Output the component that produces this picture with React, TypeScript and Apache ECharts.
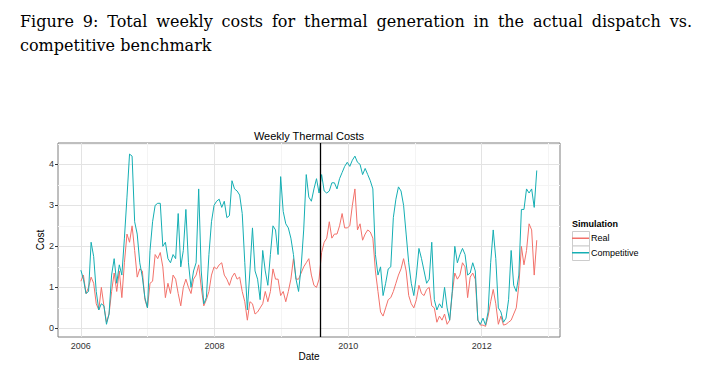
import React, { useEffect, useRef } from 'react';
import * as echarts from 'echarts';

// Weekly thermal costs, sampled every two weeks starting 2006-01-01
const startYear = 2006;
const stepDays = 14;

const real = [
  1.15, 1.3, 0.85, 1.0, 1.25, 1.1, 0.6, 0.45, 1.0, 0.55,
  0.15, 0.35, 0.9, 1.35, 0.9, 1.4, 0.75, 1.6, 2.3, 2.1,
  2.5, 1.9, 1.25, 1.45, 1.4, 0.7, 0.5, 1.1, 1.15, 1.8,
  1.7, 1.85, 1.5, 0.75, 1.1, 0.85, 1.3, 1.2, 0.85, 0.55,
  1.0, 1.2, 1.0, 0.85, 1.2, 1.3, 1.55, 1.0, 0.55, 0.7,
  0.9, 1.3, 1.5, 1.45, 1.55, 1.6, 1.3, 1.2, 1.05, 1.25,
  1.35, 1.2, 1.25, 0.9, 0.65, 0.2, 0.65, 0.6, 0.35, 0.4,
  0.5, 0.6, 0.9, 0.65, 0.9, 1.45, 1.2, 1.2, 0.8, 0.9,
  0.65, 0.9, 1.2, 1.7, 1.2, 1.2, 1.35, 1.5, 1.6, 1.7,
  1.3, 1.05, 1.0, 1.2, 1.85, 2.1, 2.2, 2.6, 2.2, 2.3,
  2.3, 2.5, 2.8, 2.45, 2.45, 2.5, 3.0, 3.4, 2.4, 2.55,
  2.15, 2.3, 2.4, 2.35, 2.2, 1.4, 0.9, 0.4, 0.3, 0.5,
  0.7, 0.75, 0.9, 1.1, 1.3, 1.45, 1.7, 1.4, 0.8, 0.6,
  0.5, 0.7, 1.05, 0.85, 0.8, 0.95, 1.0, 0.55, 0.5, 0.15,
  0.3, 0.2, 0.35, 0.1, 0.2, 0.85, 1.35, 1.2, 1.3, 1.6,
  1.5, 0.75, 1.25, 1.35, 1.2, 0.2, 0.08, 0.08, 0.05, 0.3,
  0.65, 0.95, 0.6, 0.1, 0.3, 0.08, 0.1, 0.15, 0.2, 0.35,
  0.5, 1.05, 2.0, 1.55, 1.9, 2.55, 2.4, 1.3, 2.15,
];

const competitive = [
  1.42, 1.2, 0.85, 0.9, 2.1, 1.75, 0.9, 0.45, 0.6, 0.55,
  0.1, 0.35, 1.3, 1.7, 1.1, 1.55, 1.3, 2.2, 3.2, 4.25,
  4.2, 2.6, 2.3, 1.6, 1.25, 0.75, 0.5, 1.9, 2.6, 3.0,
  3.05, 3.05, 2.0, 2.1, 1.7, 1.6, 1.8, 1.7, 2.8, 1.5,
  1.9, 2.9, 1.6, 1.0, 1.4, 1.6, 3.4, 1.4, 0.6, 0.75,
  1.8, 2.6, 3.0, 3.1, 3.15, 2.95, 3.1, 2.7, 2.75, 3.6,
  3.4, 3.35, 3.25, 2.8, 1.6, 0.45, 1.4, 2.45, 1.4, 1.2,
  0.7, 1.9, 1.4, 1.05, 1.8, 2.5, 2.4, 1.8, 3.7, 2.85,
  2.55, 2.45, 2.2, 1.8, 1.2, 0.9, 1.5, 2.4, 3.75, 3.2,
  3.1, 3.4, 3.65, 3.3, 3.75, 3.35, 3.3, 3.35, 3.55, 3.55,
  3.4, 3.65, 3.8, 3.95, 4.05, 3.95, 4.1, 4.2, 4.05, 4.0,
  3.75, 3.9, 3.75, 3.6, 3.4, 1.8, 1.3, 1.5, 0.8, 1.1,
  1.45, 1.5, 2.7, 3.15, 3.45, 3.35, 3.0, 2.3, 1.6, 1.1,
  0.8, 1.3, 1.95, 1.7, 1.4, 1.1, 1.2, 2.1, 0.7, 0.45,
  0.6, 0.5, 1.0, 0.5, 0.2, 0.9, 2.0, 1.6, 1.8, 1.95,
  1.8, 1.3, 1.35, 1.6, 1.4, 0.2, 0.1, 0.25, 0.08, 0.4,
  1.6, 2.4, 1.7, 0.5, 0.4, 0.15, 0.25, 0.7, 1.9, 1.05,
  0.9, 1.3, 2.9, 2.9, 3.4, 3.3, 3.4, 2.95, 3.85,
];

const yTicks = [0, 1, 2, 3, 4];
const yMinor = [0.5, 1.5, 2.5, 3.5, 4.5];
const xTickYears = [2006, 2008, 2010, 2012];
const xMinorYears = [2007, 2009, 2011, 2013];
const breakDate = [2009, 7, 1];
const xRange = [[2005, 7, 29], [2013, 2, 4]];
const yRange = [-0.21, 4.52];

const RED = '#F2716A';
const TEAL = '#14AEB3';

export default function App() {
  const ref = useRef<HTMLDivElement>(null);

  useEffect(() => {
    const chart = echarts.init(ref.current as HTMLDivElement, null, { renderer: 'svg' });
    const day = 86400000;
    const t0 = new Date(startYear, 0, 1).getTime();
    const toTs = (v: number[]) => new Date(v[0], v[1], v[2]).getTime();
    const yearTs = (y: number) => new Date(y, 0, 1).getTime();
    const realData = real.map((v, i) => [t0 + i * stepDays * day, v]);
    const compData = competitive.map((v, i) => [t0 + i * stepDays * day, v]);

    const major = { color: '#e3e3e3', width: 1, type: 'solid' };
    const minor = { color: '#f4f4f4', width: 1, type: 'solid' };
    const gridLines = [
      ...yMinor.map((v) => ({ yAxis: v, lineStyle: minor })),
      ...xMinorYears.map((y) => ({ xAxis: yearTs(y), lineStyle: minor })),
      ...yTicks.map((v) => ({ yAxis: v, lineStyle: major })),
      ...xTickYears.map((y) => ({ xAxis: yearTs(y), lineStyle: major })),
    ];

    chart.setOption({
      animation: false,
      backgroundColor: 'transparent',
      textStyle: { fontFamily: 'Arial, "Liberation Sans", sans-serif' },
      title: {
        text: 'Weekly Thermal Costs',
        left: 309,
        top: 130,
        textAlign: 'center',
        padding: 0,
        textStyle: { fontSize: 11, fontWeight: 'normal', color: '#000', fontFamily: 'Arial, "Liberation Sans", sans-serif' },
      },
      grid: {
        left: 58,
        right: 146,
        top: 143,
        bottom: 43,
        show: true,
        backgroundColor: '#fff',
        borderColor: '#7f7f7f',
        borderWidth: 1,
        containLabel: false,
        outerBoundsMode: 'none',
      },
      legend: {
        data: ['Real', 'Competitive'],
        orient: 'vertical',
        left: 572,
        top: 231,
        padding: 0,
        itemGap: 0,
        itemWidth: 17,
        itemHeight: 1.5,
        icon: 'rect',
        z: 10,
        selectedMode: false,
        textStyle: { fontSize: 9, color: '#000', lineHeight: 14.5, padding: [0, 0, 0, -3] },
      },
      graphic: [
        { type: 'text', left: 572, top: 219, z: 10, style: { text: 'Simulation', fontSize: 9, fontWeight: 'bold', fill: '#000', fontFamily: 'Arial, "Liberation Sans", sans-serif' } },
        { type: 'rect', left: 572, top: 231, z: 0, shape: { width: 17, height: 14.5 }, style: { fill: '#fff', stroke: '#cccccc', lineWidth: 1 } },
        { type: 'rect', left: 572, top: 245.5, z: 0, shape: { width: 17, height: 14.5 }, style: { fill: '#fff', stroke: '#cccccc', lineWidth: 1 } },
      ],
      xAxis: {
        type: 'value',
        min: toTs(xRange[0]),
        max: toTs(xRange[1]),
        name: 'Date',
        nameLocation: 'middle',
        nameGap: 14,
        nameMoveOverlap: false,
        nameTextStyle: { fontSize: 10, color: '#000' },
        axisLine: { show: false },
        axisTick: { show: true, length: 3, lineStyle: { color: '#333' }, customValues: xTickYears.map(yearTs) },
        axisLabel: {
          fontSize: 9,
          color: '#333',
          margin: 4,
          customValues: xTickYears.map(yearTs),
          formatter: (v: number) => String(new Date(v).getFullYear()),
        },
        splitLine: { show: false },
      },
      yAxis: {
        type: 'value',
        min: yRange[0],
        max: yRange[1],
        name: 'Cost',
        nameLocation: 'middle',
        nameRotate: 90,
        nameGap: 13,
        nameMoveOverlap: false,
        nameTextStyle: { fontSize: 10, color: '#000' },
        axisLine: { show: false },
        axisTick: { show: true, length: 3, lineStyle: { color: '#333' }, customValues: yTicks },
        axisLabel: {
          fontSize: 9,
          color: '#333',
          margin: 4,
          customValues: yTicks,
          formatter: (v: number) => String(v),
        },
        splitLine: { show: false },
      },
      series: [
        {
          name: 'Real',
          type: 'line',
          data: realData,
          showSymbol: false,
          symbol: 'none',
          color: RED,
          lineStyle: { color: RED, width: 1 },
          emphasis: { disabled: true },
          z: 2,
          markLine: {
            silent: true,
            z: 1,
            symbol: ['none', 'none'],
            label: { show: false },
            emphasis: { disabled: true },
            data: gridLines,
          },
        },
        {
          name: 'Competitive',
          type: 'line',
          data: compData,
          showSymbol: false,
          symbol: 'none',
          color: TEAL,
          lineStyle: { color: TEAL, width: 1 },
          emphasis: { disabled: true },
          z: 3,
          markLine: {
            silent: true,
            z: 5,
            symbol: ['none', 'none'],
            label: { show: false },
            emphasis: { disabled: true },
            lineStyle: { color: '#000', width: 1.3, type: 'solid' },
            data: [{ xAxis: toTs(breakDate) }],
          },
        },
      ],
    });

    return () => chart.dispose();
  }, []);

  return (
    <div style={{ position: 'fixed', left: 0, top: 0, width: 706, height: 380, background: '#fff' }}>
      <div ref={ref} style={{ position: 'absolute', left: 0, top: 0, width: 706, height: 380 }} />
      <div
        style={{
          position: 'absolute',
          left: 20,
          top: 10,
          width: 672,
          fontFamily: '"DejaVu Serif", serif',
          fontSize: 16,
          lineHeight: '24px',
          color: '#000',
        }}
      >
        <div style={{ textAlign: 'justify', textAlignLast: 'justify' }}>
          Figure 9: Total weekly costs for thermal generation in the actual dispatch vs.
        </div>
        <div>competitive benchmark</div>
      </div>
    </div>
  );
}
